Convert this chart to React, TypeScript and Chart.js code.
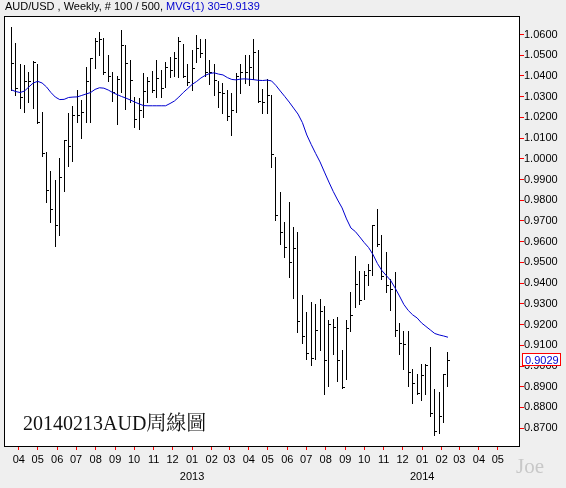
import React, { useEffect, useRef } from "react";
import { Chart, registerables } from "chart.js";

Chart.register(...registerables);

// ---------- data ----------
const firstWeek = "2012-03-20";

const highs = [
  1.0637, 1.0557, 1.0457, 1.0452, 1.042, 1.0471, 1.046, 1.0224, 1.0035, 0.9939,
  0.99, 1.0002, 1.0088, 1.0222, 1.0256, 1.0331, 1.0283, 1.0444, 1.0484, 1.0581,
  1.0613, 1.0581, 1.0499, 1.0419, 1.0402, 1.0623, 1.0547, 1.0475, 1.0297, 1.0294,
  1.0413, 1.0394, 1.0423, 1.0475, 1.043, 1.0466, 1.049, 1.0515, 1.0587, 1.0555,
  1.0459, 1.0526, 1.06, 1.0579, 1.0579, 1.0475, 1.0459, 1.0378, 1.0368, 1.033,
  1.032, 1.0413, 1.046, 1.0499, 1.0503, 1.0579, 1.0523, 1.0338, 1.0383, 1.031,
  1.0011, 0.9842, 0.9694, 0.9794, 0.967, 0.9646, 0.9345, 0.926, 0.9308, 0.9297,
  0.9322, 0.9292, 0.922, 0.9227, 0.9236, 0.9075, 0.922, 0.9356, 0.9529, 0.9461,
  0.9461, 0.9493, 0.9678, 0.9759, 0.963, 0.9549, 0.9421, 0.9453, 0.9207, 0.9171,
  0.9171, 0.8987, 0.8962, 0.9011, 0.9011, 0.9091, 0.889, 0.8874, 0.8962, 0.9067,
];

const lows = [
  1.0331, 1.0307, 1.0243, 1.0227, 1.0275, 1.0246, 1.0174, 1.0016, 0.9794, 0.9693,
  0.9577, 0.963, 0.9847, 0.9964, 0.999, 1.0179, 1.0101, 1.0179, 1.018, 1.0436,
  1.05, 1.0407, 1.0378, 1.0281, 1.0169, 1.0322, 1.0241, 1.0273, 1.0153, 1.0145,
  1.0201, 1.0273, 1.0322, 1.0297, 1.0297, 1.0349, 1.0394, 1.0402, 1.0394, 1.0394,
  1.0354, 1.033, 1.0466, 1.049, 1.0402, 1.0362, 1.0306, 1.0249, 1.0219, 1.0185,
  1.0113, 1.0224, 1.032, 1.0368, 1.0354, 1.0386, 1.0273, 1.0222, 1.0219, 0.996,
  0.9706, 0.959, 0.9525, 0.9429, 0.9327, 0.9163, 0.9112, 0.9035, 0.9003, 0.9035,
  0.9075, 0.8867, 0.8906, 0.9059, 0.893, 0.8895, 0.8938, 0.9171, 0.9284, 0.93,
  0.9324, 0.9389, 0.9437, 0.9578, 0.9421, 0.9356, 0.9268, 0.9147, 0.9059, 0.8987,
  0.8906, 0.8822, 0.8866, 0.8834, 0.8866, 0.8761, 0.8665, 0.8678, 0.8729, 0.8906,
];

const closes = [
  1.046, 1.0339, 1.0296, 1.0375, 1.0375, 1.0466, 1.0175, 1.0026, 0.9847, 0.9755,
  0.9678, 0.991, 1.0088, 1.0058, 1.0211, 1.0209, 1.0222, 1.0375, 1.0484, 1.0565,
  1.0576, 1.0417, 1.0397, 1.032, 1.0381, 1.0547, 1.0459, 1.0378, 1.0188, 1.0233,
  1.0326, 1.0373, 1.033, 1.0386, 1.0338, 1.0442, 1.0426, 1.0483, 1.0568, 1.0397,
  1.037, 1.0434, 1.0531, 1.0507, 1.0418, 1.0418, 1.0378, 1.032, 1.0315, 1.0202,
  1.0233, 1.0397, 1.0417, 1.0417, 1.0441, 1.0511, 1.0279, 1.0272, 1.0306, 1.0021,
  0.9726, 0.9646, 0.9573, 0.9501, 0.9566, 0.9215, 0.9142, 0.9062, 0.9035, 0.9171,
  0.9263, 0.9027, 0.9199, 0.9186, 0.9027, 0.8895, 0.918, 0.9244, 0.9393, 0.9316,
  0.9437, 0.9461, 0.9678, 0.9586, 0.9432, 0.9389, 0.9368, 0.9171, 0.9107, 0.9104,
  0.8967, 0.8914, 0.8869, 0.8954, 0.9003, 0.8769, 0.8685, 0.8756, 0.8959, 0.9029,
];

const ma30 = [
  1.0333, 1.0325, 1.032, 1.0327, 1.0347, 1.0366, 1.0374, 1.0366, 1.0347, 1.032,
  1.0298, 1.0286, 1.0287, 1.0296, 1.0298, 1.0299, 1.0306, 1.0313, 1.032, 1.0335,
  1.0343, 1.0341, 1.0332, 1.032, 1.031, 1.0301, 1.0293, 1.0284, 1.0274, 1.0265,
  1.0257, 1.0256, 1.0256, 1.0256, 1.0256, 1.0256, 1.0267, 1.0279, 1.0298, 1.032,
  1.0339, 1.0359, 1.0373, 1.039, 1.0403, 1.0412, 1.0415, 1.0409, 1.0405, 1.0392,
  1.0383, 1.0381, 1.0385, 1.0386, 1.0384, 1.0382, 1.0379, 1.0378, 1.038, 1.0376,
  1.0354, 1.0327, 1.0301, 1.0274, 1.0245, 1.0216, 1.0175, 1.0115, 1.0069, 1.0026,
  0.9985, 0.9936, 0.9888, 0.9842, 0.9801, 0.9763, 0.971, 0.9666, 0.9649, 0.9623,
  0.9596, 0.9572, 0.9538, 0.9495, 0.9461, 0.9437, 0.9413, 0.9377, 0.9338, 0.9297,
  0.9268, 0.9247, 0.9232, 0.9208, 0.9191, 0.9174, 0.9157, 0.915, 0.9145, 0.9139,
];

const yTicks = [
  0.87, 0.88, 0.89, 0.9, 0.91, 0.92, 0.93, 0.94, 0.95, 0.96,
  0.97, 0.98, 0.99, 1.0, 1.01, 1.02, 1.03, 1.04, 1.05, 1.06,
];

const monthTicks = [
  "2012-04", "2012-05", "2012-06", "2012-07", "2012-08", "2012-09", "2012-10",
  "2012-11", "2012-12", "2013-01", "2013-02", "2013-03", "2013-04", "2013-05",
  "2013-06", "2013-07", "2013-08", "2013-09", "2013-10", "2013-11", "2013-12",
  "2014-01", "2014-02", "2014-03", "2014-04", "2014-05",
];

const headerText = "AUD/USD , Weekly, # 100 / 500, ";
const maText = "MVG(1) 30=0.9139";
const noteText = "20140213AUD周線圖";
const signText = "Joe";
const lastClose = 0.9029;

// ---------- helpers ----------
const WEEK_MS = 7 * 86400000;
const parseUTC = (s: string) => {
  const [y, m, d] = s.split("-").map(Number);
  return Date.UTC(y, m - 1, d || 1);
};
const base = parseUTC(firstWeek);
const monthPos = monthTicks.map((s) => (parseUTC(s) - base) / WEEK_MS);
const monthLabels = monthTicks.map((s) => {
  const [y, m] = s.split("-");
  return m === "01" ? [m, y] : m;
});

const SANS = '"Liberation Sans", Arial, sans-serif';
const BLUE = "#0000D0";

export default function App() {
  const ref = useRef<HTMLCanvasElement>(null);

  useEffect(() => {
    document.body.style.margin = "0";
    Chart.defaults.font.family = SANS;

    const tick = document.createElement("canvas");
    tick.width = 5;
    tick.height = 1;
    const tctx = tick.getContext("2d")!;
    tctx.fillStyle = "#000";
    tctx.fillRect(2, 0, 3, 1);

    const snapPlugin = {
      id: "snap",
      afterDatasetsUpdate(chart: any) {
        chart.data.datasets.forEach((_: any, di: number) => {
          const meta = chart.getDatasetMeta(di);
          if (meta.type === "bar") {
            meta.data.forEach((el: any) => {
              el.x = Math.floor(el.x) + 0.5;
              el.y = Math.round(el.y);
              el.base = Math.round(el.base) + 1;
            });
          } else if (meta.type === "scatter") {
            meta.data.forEach((el: any) => {
              el.x = Math.floor(el.x) + 0.5;
              el.y = Math.floor(el.y) + 0.5;
            });
          }
        });
      },
    };

    const framePlugin = {
      id: "frame",
      beforeDraw(chart: any) {
        const { ctx, chartArea } = chart;
        const { left, top, right, bottom } = chartArea;
        ctx.save();
        ctx.fillStyle = "#FFFFFF";
        ctx.fillRect(left, top, right - left, bottom - top);
        ctx.restore();
      },
      afterDatasetsDraw(chart: any) {
        const { ctx, chartArea } = chart;
        const { left, top, right, bottom } = chartArea;
        ctx.save();
        ctx.strokeStyle = "#000";
        ctx.lineWidth = 1;
        ctx.strokeRect(left + 0.5, top + 0.5, right - left - 1, bottom - top - 1);
        ctx.restore();
      },
      afterDraw(chart: any) {
        const { ctx } = chart;
        const Y = Math.round(chart.scales.y.getPixelForValue(lastClose));
        ctx.save();
        ctx.fillStyle = "#FFFFFF";
        ctx.fillRect(522, Y - 7, 39, 13);
        ctx.strokeStyle = "#FF0000";
        ctx.lineWidth = 1;
        ctx.strokeRect(522.5, Y - 6.5, 38, 12);
        ctx.fillStyle = BLUE;
        ctx.font = "11px " + SANS;
        ctx.textBaseline = "middle";
        ctx.textAlign = "left";
        ctx.fillText(lastClose.toFixed(4), 525, Y + 0.5);
        ctx.restore();
      },
    };

    const chart = new Chart(ref.current!, {
      type: "scatter",
      data: {
        datasets: [
          {
            type: "line",
            data: ma30.map((v, i) => ({ x: i, y: v })),
            borderColor: BLUE,
            borderWidth: 1,
            pointRadius: 0,
            tension: 0,
            fill: false,
            order: 0,
          } as any,
          {
            type: "bar",
            data: highs.map((h, i) => ({ x: i, y: [lows[i], h] })),
            backgroundColor: "#000",
            borderWidth: 0,
            barThickness: 1,
            inflateAmount: 0,
            order: 1,
          } as any,
          {
            type: "scatter",
            data: closes.map((c, i) => ({ x: i, y: c })),
            pointStyle: tick,
            pointRadius: 2,
            pointHoverRadius: 2,
            showLine: false,
            order: 1,
          } as any,
        ],
      },
      options: {
        animation: false,
        responsive: false,
        maintainAspectRatio: false,
        events: [],
        layout: { padding: { left: 4, top: 16, right: 0, bottom: 0 } },
        plugins: {
          legend: { display: false },
          tooltip: { enabled: false },
          title: { display: false },
        },
        scales: {
          x: {
            type: "linear",
            min: -1.632,
            max: 115.32,
            offset: false,
            afterBuildTicks: (s: any) => {
              s.ticks = monthPos.map((v) => ({ value: v }));
            },
            afterFit: (s: any) => {
              s.height = 41;
            },
            grid: {
              drawOnChartArea: false,
              drawTicks: true,
              tickLength: 3,
              color: "#FF0000",
              lineWidth: 1,
              offset: false,
            },
            border: { display: false },
            ticks: {
              autoSkip: false,
              maxRotation: 0,
              minRotation: 0,
              padding: 1,
              color: "#000",
              font: { family: SANS, size: 11, lineHeight: 1.55 },
              callback: (_v: any, idx: number) => monthLabels[idx] as any,
            },
          },
          y: {
            type: "linear",
            position: "right",
            min: 0.86092,
            max: 1.06893,
            beginAtZero: false,
            afterBuildTicks: (s: any) => {
              s.ticks = yTicks.map((v) => ({ value: v }));
            },
            afterFit: (s: any) => {
              s.width = 46;
            },
            grid: {
              drawOnChartArea: false,
              drawTicks: true,
              tickLength: 4,
              color: "#FF0000",
              lineWidth: 1,
            },
            border: { display: false },
            ticks: {
              autoSkip: false,
              padding: 0,
              color: "#000",
              font: { family: SANS, size: 11 },
              callback: (v: any) => Number(v).toFixed(4),
            },
          },
        },
      } as any,
      plugins: [snapPlugin, framePlugin],
    });

    return () => chart.destroy();
  }, []);

  return (
    <div
      style={{
        position: "relative",
        width: 566,
        height: 488,
        background: "#EFEFEF",
        overflow: "hidden",
      }}
    >
      <canvas
        ref={ref}
        width={566}
        height={488}
        style={{ position: "absolute", left: 0, top: 0 }}
      />
      <div
        style={{
          position: "absolute",
          left: 5,
          top: 0,
          font: "11px " + SANS,
          lineHeight: "13px",
          whiteSpace: "pre",
        }}
      >
        <span style={{ color: "#000" }}>{headerText}</span>
        <span style={{ color: BLUE }}>{maText}</span>
      </div>
      <div
        style={{
          position: "absolute",
          left: 23,
          top: 413,
          fontFamily:
            '"Liberation Serif", "Noto Serif CJK TC", "Noto Sans CJK TC", serif',
          fontSize: 20,
          lineHeight: "20px",
          color: "#111",
          whiteSpace: "pre",
        }}
      >
        {noteText}
      </div>
      <div
        style={{
          position: "absolute",
          left: 516,
          top: 456,
          fontFamily: '"Liberation Serif", serif',
          fontSize: 21,
          lineHeight: "21px",
          color: "#C8C8C8",
          whiteSpace: "pre",
        }}
      >
        {signText}
      </div>
    </div>
  );
}
